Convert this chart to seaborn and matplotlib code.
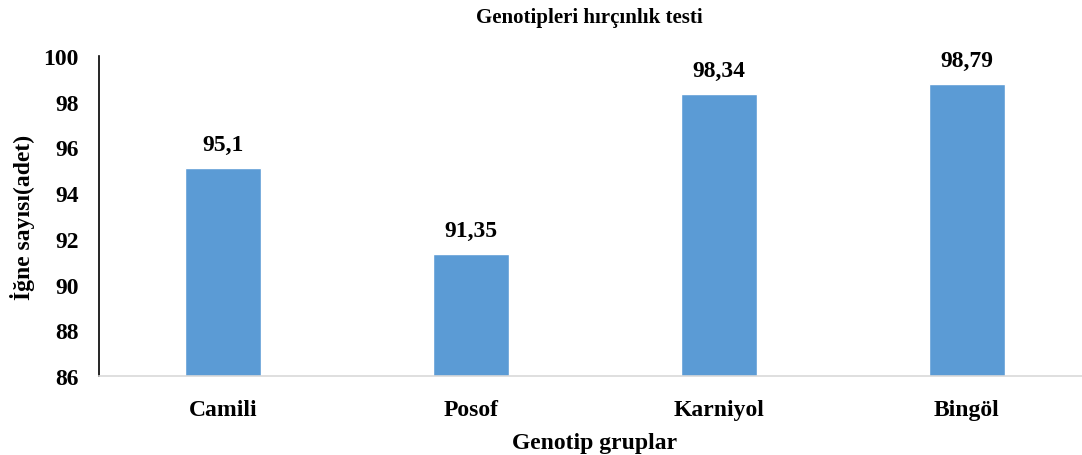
import matplotlib
matplotlib.use('Agg')
import matplotlib.pyplot as plt
import seaborn as sns
import pandas as pd

# Chart data
genotypes = ['Camili', 'Posof', 'Karniyol', 'Bingöl']
needle_counts = [95.1, 91.35, 98.34, 98.79]
value_labels = ['95,1', '91,35', '98,34', '98,79']
y_ticks = [86, 88, 90, 92, 94, 96, 98, 100]

df = pd.DataFrame({'genotip': genotypes, 'igne': needle_counts})

sns.set_style('white')
plt.rcParams['font.family'] = ['Liberation Serif', 'DejaVu Serif']
plt.rcParams['font.weight'] = 'bold'
plt.rcParams['text.color'] = 'black'
plt.rcParams['axes.labelcolor'] = 'black'
plt.rcParams['xtick.color'] = 'black'
plt.rcParams['ytick.color'] = 'black'

fig = plt.figure(figsize=(10.82, 4.56), dpi=100)
ax = fig.add_axes([99 / 1082, 1 - 377 / 456, 992 / 1082, 320 / 456])

sns.barplot(data=df, x='genotip', y='igne', color='#5B9BD5', width=0.31,
            saturation=1, ax=ax)

ax.set_ylim(86, 100)
ax.set_xlim(-0.5, 3.5)
ax.set_yticks(y_ticks)
ax.set_yticklabels([str(t) for t in y_ticks], fontsize=17, fontweight='bold')
ax.set_xticklabels(genotypes, fontsize=17, fontweight='bold')
ax.tick_params(axis='both', length=0)
ax.tick_params(axis='y', pad=14.5)
ax.tick_params(axis='x', pad=16.5)

for i, (v, lab) in enumerate(zip(needle_counts, value_labels)):
    ax.text(i, v + 0.55, lab, ha='center', va='bottom', fontsize=17,
            fontweight='bold')

ax.spines['top'].set_visible(False)
ax.spines['right'].set_visible(False)
ax.spines['left'].set_color('black')
ax.spines['left'].set_linewidth(1.2)
ax.spines['bottom'].set_color('#D9D9D9')
ax.spines['bottom'].set_linewidth(1.2)

ax.set_xlabel('Genotip gruplar', fontsize=17, fontweight='bold', labelpad=9)
ax.set_ylabel('İğne sayısı(adet)', fontsize=17, fontweight='bold', labelpad=6)
fig.text(589 / 1082, 1 - 18 / 456, 'Genotipleri hırçınlık testi', ha='center',
         va='center', fontsize=15, fontweight='bold')

fig.savefig('out.png', dpi=100)
